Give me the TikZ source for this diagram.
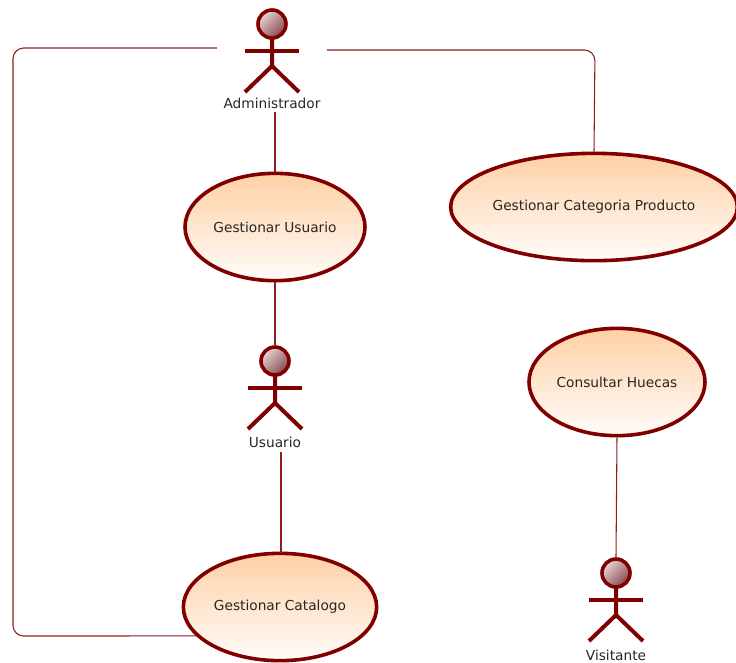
\documentclass[tikz,border=0pt]{standalone}
\usepackage{fontspec}
\setmainfont{DejaVu Sans}
\usetikzlibrary{shapes.geometric}
\definecolor{umlred}{RGB}{128,0,0}
\definecolor{assocred}{RGB}{140,30,30}
\definecolor{casetop}{RGB}{255,208,165}
\definecolor{casebottom}{RGB}{255,252,250}
\definecolor{headlight}{RGB}{232,215,215}
\definecolor{headdark}{RGB}{135,70,75}
\tikzset{
  usecase/.style={ellipse,draw=umlred,line width=2.7pt,top color=casetop,bottom color=casebottom,
    inner sep=0pt,font=\fontsize{10.3}{12}\selectfont,text=black!85},
  actorlabel/.style={inner sep=0.75pt,font=\fontsize{10.3}{12}\selectfont,text=black!85},
  assoc/.style={draw=assocred,line width=0.8pt},
  limb/.style={draw=umlred,line width=3pt},
  actor/.pic={
    \node [circle,draw=umlred,line width=2.7pt,minimum size=21pt,inner sep=0pt,
      shading=axis,left color=headlight,right color=headdark,shading angle=45] (-head) at (0,0) {};
    \begin{scope}[yscale=-1]
    \draw [limb] (-27,27) -- (27,27);
    \draw [limb] (0,14) -- (0,42) -- (-27,68);
    \draw [limb] (0,42) -- (27,68);
    \end{scope}
  }
}
\begin{document}
\begin{tikzpicture}[x=0.75pt,y=0.75pt,yscale=-1,xscale=1]
\useasboundingbox (0,0) rectangle (736,662);

% actors
\pic (admin) at (272,24) {actor};
\pic (usuario) at (275,361) {actor};
\pic (visitante) at (616,573) {actor};
\node [actorlabel] (adminlabel) at (272,103) {Administrador};
\node [actorlabel] (usuariolabel) at (275,442) {Usuario};
\node [actorlabel] (visitantelabel) at (616,655) {Visitante};

% use cases
\node [usecase,minimum width=135pt,minimum height=80.5pt] (gestusuario) at (275,227) {Gestionar Usuario};
\node [usecase,minimum width=215pt,minimum height=80.5pt] (gestcategoria) at (594,207) {Gestionar Categoria Producto};
\node [usecase,minimum width=132pt,minimum height=80.5pt] (consultar) at (617,382) {Consultar Huecas};
\node [usecase,minimum width=145pt,minimum height=80.5pt] (gestcatalogo) at (280,607) {Gestionar Catalogo};

% free ends and bends
\coordinate (adminleft) at (217,48);
\coordinate (adminright) at (327,50);
\coordinate (lefttop) at (13,48);
\coordinate (leftbottom) at (13,636);
\coordinate (righttop) at (595,50);
\coordinate (adminbelow) at (275,112);
\coordinate (usuariobelow) at (281,452);
\coordinate (catalogotop) at (281,553);

% associations
\draw [assoc] (adminbelow) -- (gestusuario.north);
\draw [assoc] (gestusuario.south) -- (usuario-head.north);
\draw [assoc] (usuariobelow) -- (catalogotop);
\draw [assoc] (consultar.south) -- (visitante-head.north);
\draw [assoc,rounded corners=8pt] (adminleft) -- (lefttop) -- (leftbottom) -- (gestcatalogo.199);
\draw [assoc,rounded corners=8pt] (adminright) -- (righttop) -- (gestcategoria.north);
\end{tikzpicture}
\end{document}
